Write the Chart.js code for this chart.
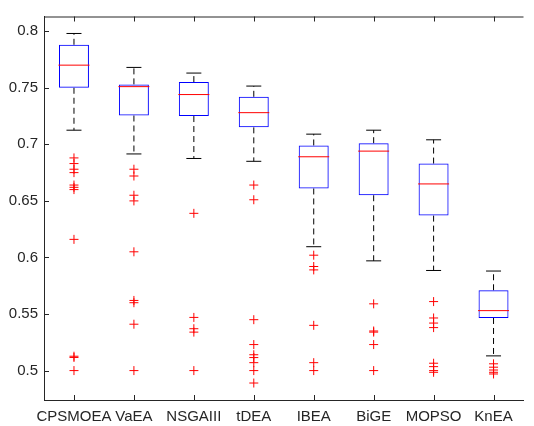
<!DOCTYPE html>
<html>
<head>
<meta charset="utf-8">
<script src="https://cdn.jsdelivr.net/npm/chart.js@4/dist/chart.umd.min.js"></script>
<style>
    html, body { margin: 0; padding: 0; background: #fff; overflow: hidden; }
    #wrap { width: 534px; height: 426px; overflow: hidden; position: relative; }
    canvas { display: block; position: absolute; left: 0; top: 0; }
</style>
</head>
<body>
<div id="wrap"><canvas id="boxChart" width="540" height="426"></canvas></div>
<script>
// box plot data
const categories = ['CPSMOEA', 'VaEA', 'NSGAIII', 'tDEA', 'IBEA', 'BiGE', 'MOPSO', 'KnEA'];
const whiskerHigh = [0.798, 0.768, 0.763, 0.7515, 0.709, 0.7125, 0.704, 0.588];
const q3 = [0.788, 0.753, 0.755, 0.742, 0.699, 0.701, 0.683, 0.571];
const medians = [0.770, 0.751, 0.744, 0.728, 0.689, 0.694, 0.665, 0.553];
const q1 = [0.750, 0.7255, 0.725, 0.715, 0.661, 0.655, 0.637, 0.5465];
const whiskerLow = [0.7125, 0.6915, 0.6875, 0.685, 0.6095, 0.597, 0.5885, 0.513];
const outliers = [
    [0.688, 0.683, 0.678, 0.675, 0.664, 0.662, 0.660, 0.616, 0.5127, 0.5116, 0.500],
    [0.678, 0.672, 0.655, 0.650, 0.605, 0.562, 0.560, 0.541, 0.500],
    [0.639, 0.547, 0.537, 0.534, 0.500],
    [0.664, 0.651, 0.545, 0.523, 0.514, 0.5115, 0.507, 0.500, 0.489],
    [0.602, 0.592, 0.589, 0.540, 0.507, 0.500],
    [0.559, 0.535, 0.534, 0.523, 0.500],
    [0.561, 0.5465, 0.542, 0.538, 0.5065, 0.5035, 0.500, 0.4985],
    [0.506, 0.503, 0.5005, 0.4985, 0.497]
];

const FONT = { family: '"Liberation Sans", Arial, sans-serif', size: 15 };
const TEXT = '#262626';

// one little dashed dataset per whisker
const whiskerSets = [];
categories.forEach((c, i) => {
    [[q3[i], whiskerHigh[i]], [q1[i], whiskerLow[i]]].forEach(([from, to]) => {
        whiskerSets.push({
            type: 'line',
            data: [{ x: c, y: from }, { x: c, y: to }],
            borderColor: '#000000',
            borderWidth: 1,
            borderDash: [6, 4],
            pointRadius: 0
        });
    });
});

const caps = [];
categories.forEach((c, i) => {
    caps.push({ x: c, y: whiskerHigh[i] }, { x: c, y: whiskerLow[i] });
});

const outlierPoints = [];
categories.forEach((c, i) => {
    outliers[i].forEach(v => outlierPoints.push({ x: c, y: v }));
});

// matlab style ticks pointing inward + top border
const axisBox = {
    id: 'axisBox',
    afterDraw(chart) {
        const { ctx, chartArea: a, scales } = chart;
        ctx.save();
        ctx.strokeStyle = TEXT;
        ctx.lineWidth = 1;
        ctx.beginPath();
        ctx.moveTo(a.left, a.top + 0.5);
        ctx.lineTo(a.right, a.top + 0.5);
        scales.y.ticks.forEach(t => {
            const y = Math.round(scales.y.getPixelForValue(t.value)) + 0.5;
            ctx.moveTo(a.left, y);
            ctx.lineTo(a.left + 5, y);
        });
        categories.forEach((c, i) => {
            const x = Math.round(scales.x.getPixelForValue(i)) + 0.5;
            ctx.moveTo(x, a.bottom);
            ctx.lineTo(x, a.bottom - 5);
            ctx.moveTo(x, a.top);
            ctx.lineTo(x, a.top + 5);
        });
        ctx.stroke();
        ctx.restore();
    }
};

const ctx = document.getElementById('boxChart').getContext('2d');

const myBoxChart = new Chart(ctx, {
    type: 'bar',
    data: {
        labels: categories,
        datasets: [
            {
                type: 'line',
                data: outlierPoints,
                showLine: false,
                pointStyle: 'cross',
                pointRadius: 4.5,
                borderColor: '#ff0000',
                pointBorderWidth: 1
            },
            {
                type: 'line',
                data: medians.map((m, i) => ({ x: categories[i], y: m })),
                showLine: false,
                pointStyle: 'line',
                pointRadius: 15.5,
                borderColor: '#ff0000',
                pointBorderWidth: 1
            },
            {
                type: 'bar',
                data: categories.map((c, i) => [q1[i], q3[i]]),
                backgroundColor: 'rgba(0,0,0,0)',
                borderColor: '#0000ff',
                borderWidth: 1,
                borderSkipped: false,
                barPercentage: 0.5,
                categoryPercentage: 1
            },
            {
                type: 'line',
                data: caps,
                showLine: false,
                pointStyle: 'line',
                pointRadius: 7.5,
                borderColor: '#000000',
                pointBorderWidth: 1
            },
            ...whiskerSets
        ]
    },
    options: {
        responsive: false,
        animation: false,
        events: [],
        layout: { padding: { top: 10, right: 0, left: 0, bottom: 0 } },
        plugins: {
            legend: { display: false },
            tooltip: { enabled: false }
        },
        scales: {
            x: {
                grid: { display: false, drawTicks: false },
                border: { display: true, color: TEXT, width: 1 },
                ticks: { color: TEXT, font: FONT, padding: 8, maxRotation: 0, autoSkip: false },
                afterFit: s => { s.height = 26; }
            },
            y: {
                min: 0.474,
                max: 0.813,
                grid: { display: false, drawTicks: false },
                border: { display: true, color: TEXT, width: 1 },
                ticks: {
                    stepSize: 0.05,
                    includeBounds: false,
                    color: TEXT,
                    font: { family: FONT.family, size: 15, lineHeight: 0.5 },
                    padding: 6,
                    callback: v => String(Math.round(v * 100) / 100)
                },
                afterFit: s => { s.width = 44; }
            }
        }
    },
    plugins: [axisBox]
});
</script>
</body>
</html>
